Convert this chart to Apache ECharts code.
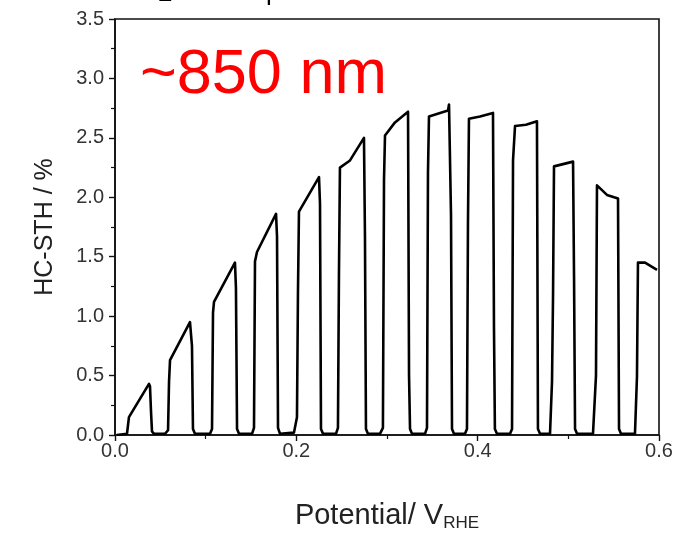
<!DOCTYPE html>
<html>
<head>
<meta charset="utf-8">
<script src="https://cdn.jsdelivr.net/npm/echarts@6/dist/echarts.min.js"></script>
<style>
  html, body { margin: 0; padding: 0; background: #fff; }
  #chart { width: 688px; height: 537px; }
</style>
</head>
<body>
<div id="chart"></div>
<script>
// Chopped-light sweep: potential (V vs RHE) and HC-STH efficiency (%)
const potential = [
  0.002, 0.0132, 0.0143, 0.0154, 0.0375, 0.0386, 0.0397, 0.0408, 0.043,
  0.0551, 0.0585, 0.0596, 0.0607, 0.0827, 0.0838, 0.0849, 0.086, 0.0882,
  0.1048, 0.107, 0.1081, 0.1092, 0.1323, 0.1334, 0.1346, 0.1368,
  0.1511, 0.1533, 0.1544, 0.1566, 0.1776, 0.1787, 0.1798, 0.182,
  0.1974, 0.2007, 0.2018, 0.2029, 0.225, 0.2261, 0.2272, 0.2294,
  0.2437, 0.2459, 0.247, 0.2481, 0.2592, 0.2746, 0.2757, 0.2768, 0.279,
  0.2922, 0.2955, 0.2967, 0.2978, 0.3088, 0.3232, 0.3243, 0.3254, 0.3276,
  0.3419, 0.3441, 0.3452, 0.3463, 0.3585, 0.3673, 0.3684, 0.3706, 0.3717, 0.3739,
  0.386, 0.3882, 0.3893, 0.3904, 0.4026, 0.4169, 0.418, 0.419, 0.4213,
  0.4357, 0.4379, 0.439, 0.4412, 0.4533, 0.4654, 0.4665, 0.4688,
  0.4798, 0.482, 0.4831, 0.4842, 0.5052, 0.5063, 0.5074, 0.5096,
  0.5272, 0.5305, 0.5316, 0.5426, 0.5548, 0.5559, 0.5581,
  0.5735, 0.5757, 0.5768, 0.5846, 0.5978
];
const hcSth = [
  0.00, 0.01, 0.08, 0.15, 0.43, 0.41, 0.20, 0.03, 0.01,
  0.01, 0.04, 0.45, 0.63, 0.95, 0.96, 0.75, 0.05, 0.01,
  0.01, 0.05, 1.03, 1.12, 1.45, 1.24, 0.05, 0.01,
  0.01, 0.06, 1.46, 1.54, 1.86, 1.67, 0.06, 0.01,
  0.02, 0.15, 1.20, 1.88, 2.17, 1.95, 0.05, 0.01,
  0.01, 0.06, 1.35, 2.25, 2.31, 2.50, 1.67, 0.05, 0.01,
  0.01, 0.06, 2.15, 2.52, 2.63, 2.72, 0.50, 0.05, 0.01,
  0.01, 0.06, 2.21, 2.68, 2.71, 2.73, 2.78, 1.85, 0.05, 0.01,
  0.01, 0.05, 1.78, 2.66, 2.68, 2.71, 0.90, 0.05, 0.01,
  0.01, 0.05, 2.31, 2.60, 2.61, 2.64, 0.05, 0.01,
  0.01, 0.45, 1.15, 2.26, 2.30, 1.33, 0.05, 0.01,
  0.01, 0.50, 2.10, 2.02, 1.99, 0.05, 0.01,
  0.01, 0.49, 1.45, 1.45, 1.39
];
const xTicks = { min: 0, max: 0.6, step: 0.2 };
const yTicks = { min: 0, max: 3.5, step: 0.5 };

const seriesData = potential.map((v, i) => [v, hcSth[i]]);

const chart = echarts.init(document.getElementById('chart'), null, { renderer: 'canvas' });
const FONT = 'Liberation Sans, Arial, sans-serif';

chart.setOption({
  animation: false,
  backgroundColor: '#fff',
  grid: {
    left: 115, right: 29, top: 19, bottom: 102,
    show: true, borderColor: '#111', borderWidth: 1.6, backgroundColor: 'transparent'
  },
  xAxis: {
    type: 'value',
    min: xTicks.min, max: xTicks.max, interval: xTicks.step,
    name: 'Potential/ V{sub|RHE}',
    nameLocation: 'middle',
    nameGap: 64,
    nameTextStyle: {
      fontFamily: FONT, fontSize: 29, color: '#222',
      rich: { sub: { fontFamily: FONT, fontSize: 17, color: '#222', padding: [16, 0, 0, 0] } }
    },
    axisLine: { show: true, lineStyle: { color: '#111', width: 1.6 } },
    axisTick: { show: true, inside: false, length: 6, lineStyle: { color: '#111', width: 1.4 } },
    minorTick: { show: true, splitNumber: 2, length: 4, lineStyle: { color: '#111', width: 1.2 } },
    axisLabel: {
      fontFamily: FONT, fontSize: 20, color: '#333', margin: 6,
      formatter: v => v.toFixed(1)
    },
    splitLine: { show: false }
  },
  yAxis: {
    type: 'value',
    min: yTicks.min, max: yTicks.max, interval: yTicks.step,
    name: 'HC-STH / %',
    nameLocation: 'middle',
    nameGap: 57,
    nameRotate: 90,
    nameTextStyle: { fontFamily: FONT, fontSize: 25, color: '#222' },
    axisLine: { show: true, lineStyle: { color: '#111', width: 1.6 } },
    axisTick: { show: true, inside: false, length: 6, lineStyle: { color: '#111', width: 1.4 } },
    minorTick: { show: true, splitNumber: 2, length: 4, lineStyle: { color: '#111', width: 1.2 } },
    axisLabel: {
      fontFamily: FONT, fontSize: 20, color: '#333', margin: 11,
      formatter: v => v.toFixed(1)
    },
    splitLine: { show: false }
  },
  series: [{
    type: 'line',
    data: seriesData,
    showSymbol: false,
    symbol: 'none',
    smooth: false,
    lineStyle: { color: '#000', width: 2.6, join: 'round' },
    clip: true
  }],
  graphic: [
    {
      type: 'text', left: 140, top: 44,
      style: { text: '~850 nm', font: '63px ' + FONT, fill: '#ff0000' }
    },
    {
      type: 'text', left: 158, top: -19,
      style: { text: '2', font: '26px ' + FONT, fill: '#000' }
    },
    {
      type: 'text', left: 266, top: -20,
      style: { text: 'p', font: '26px ' + FONT, fill: '#000' }
    }
  ]
});
</script>
</body>
</html>
